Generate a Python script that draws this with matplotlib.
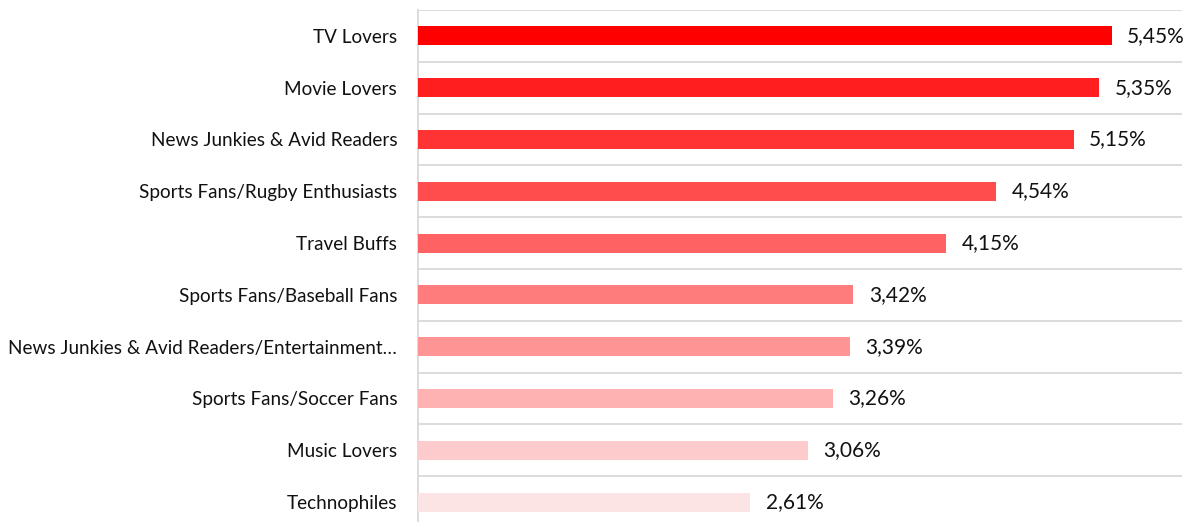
import matplotlib.pyplot as plt

categories = ['TV Lovers', 'Movie Lovers', 'News Junkies & Avid Readers',
              'Sports Fans/Rugby Enthusiasts', 'Travel Buffs',
              'Sports Fans/Baseball Fans',
              'News Junkies & Avid Readers/Entertainment…',
              'Sports Fans/Soccer Fans', 'Music Lovers', 'Technophiles']
values = [5.45, 5.35, 5.15, 4.54, 4.15, 3.42, 3.39, 3.26, 3.06, 2.61]
colors = ['#FF0000', '#FF1F1F', '#FF3333', '#FF4C4C', '#FF6262',
          '#FF7C7C', '#FF9494', '#FFB2B2', '#FDCBCB', '#FDE4E4']

plt.rcParams['font.family'] = ['Lato', 'DejaVu Sans']

fig = plt.figure(figsize=(11.96, 5.22), dpi=100)
# axes runs slightly past the bottom edge, so the last band is clipped
ax = fig.add_axes([418 / 1196, -6 / 522, 764 / 1196, 518 / 522])

y = list(range(len(categories)))
ax.barh(y, values, height=0.37, color=colors, zorder=3)
for yi, v in zip(y, values):
    ax.text(v + 0.12, yi, f'{v:.2f}'.replace('.', ',') + '%',
            va='center', ha='left', fontsize=15, color='#111111')

ax.set_xlim(0, 6)
ax.set_ylim(len(categories) - 0.5, -0.5)
ax.set_yticks(y)
ax.set_yticklabels(categories, fontsize=13.6, color='#111111')
ax.tick_params(axis='y', length=0, pad=15)
ax.set_xticks([])

# band separators
for b in range(len(categories) + 1):
    ax.axhline(b - 0.5, color='#d9d9d9', lw=1.3, zorder=1)

for s in ['top', 'right', 'bottom']:
    ax.spines[s].set_visible(False)
ax.spines['left'].set_color('#d9d9d9')
ax.spines['left'].set_linewidth(1.3)

fig.savefig('out.png', dpi=100)
